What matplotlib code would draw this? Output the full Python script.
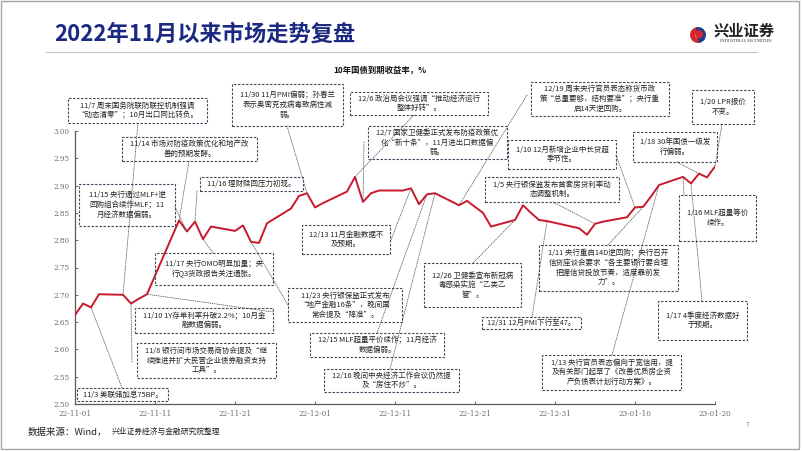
import matplotlib
matplotlib.use("Agg")
import matplotlib.pyplot as plt
import matplotlib.dates as mdates
from matplotlib.patches import Rectangle, Wedge
from matplotlib.lines import Line2D
from datetime import datetime

plt.rcParams["font.family"] = ["Noto Sans CJK SC", "DejaVu Sans"]

# 10年国债到期收益率（交易日）
dates = [
    "2022-11-01", "2022-11-02", "2022-11-03", "2022-11-04", "2022-11-07",
    "2022-11-08", "2022-11-09", "2022-11-10", "2022-11-11", "2022-11-14",
    "2022-11-15", "2022-11-16", "2022-11-17", "2022-11-18", "2022-11-21",
    "2022-11-22", "2022-11-23", "2022-11-24", "2022-11-25", "2022-11-28",
    "2022-11-29", "2022-11-30", "2022-12-01", "2022-12-02", "2022-12-05",
    "2022-12-06", "2022-12-07", "2022-12-08", "2022-12-09", "2022-12-12",
    "2022-12-13", "2022-12-14", "2022-12-15", "2022-12-16", "2022-12-19",
    "2022-12-20", "2022-12-21", "2022-12-22", "2022-12-23", "2022-12-26",
    "2022-12-27", "2022-12-28", "2022-12-29", "2022-12-30", "2023-01-03",
    "2023-01-04", "2023-01-05", "2023-01-06", "2023-01-09", "2023-01-10",
    "2023-01-11", "2023-01-12", "2023-01-13", "2023-01-16", "2023-01-17",
    "2023-01-18", "2023-01-19", "2023-01-20",
]
yields = [
    2.663, 2.684, 2.677, 2.701, 2.700,
    2.684, 2.693, 2.701, 2.735, 2.836,
    2.816, 2.834, 2.802, 2.825, 2.817,
    2.827, 2.797, 2.795, 2.831, 2.858,
    2.881, 2.886, 2.860, 2.868, 2.889,
    2.916, 2.870, 2.886, 2.891, 2.891,
    2.895, 2.866, 2.884, 2.886, 2.864,
    2.872, 2.861, 2.850, 2.825, 2.837,
    2.864, 2.850, 2.837, 2.835, 2.822,
    2.810, 2.830, 2.834, 2.842, 2.860,
    2.861, 2.880, 2.901, 2.916, 2.904,
    2.922, 2.915, 2.935,
]

x_ticks = ["2022-11-01", "2022-11-11", "2022-11-21", "2022-12-01", "2022-12-11",
           "2022-12-21", "2022-12-31", "2023-01-10", "2023-01-20"]
y_ticks = [2.50, 2.55, 2.60, 2.65, 2.70, 2.75, 2.80, 2.85, 2.90, 2.95, 3.00]

# 事件标注：文字 + 指向的交易日
event_texts = [
    "11/7 周末国务院联防联控机制强调\n“动态清零”；10月出口同比转负。",
    "11/14 市场对防疫政策优化和地产改\n善的预期发酵。",
    "11/15 央行通过MLF+逆\n回购组合续作MLF；11\n月经济数据偏弱。",
    "11/16 理财赎回压力初现。",
    "11/30 11月PMI偏弱；孙春兰\n表示奥密克戎病毒致病性减\n弱。",
    "12/6 政治局会议强调“推动经济运行\n整体好转”。",
    "12/7 国家卫健委正式发布防疫政策优\n化“新十条”，11月进出口数据偏\n弱。",
    "12/13 11月金融数据不\n及预期。",
    "11/17 央行OMO明显加量；央\n行Q3货政报告关注通胀。",
    "11/23 央行银保监正式发布\n“地产金融16条”，晚间国\n常会提及“降准”。",
    "11/10 1Y存单利率升破2.2%；10月金\n融数据偏弱。",
    "11/8 银行间市场交易商协会提及“继\n续推进并扩大民营企业债券融资支持\n工具”。",
    "11/3 美联储加息75BP。",
    "12/15 MLF超量平价续作；11月经济\n数据偏弱。",
    "12/16 晚间中央经济工作会议仍然提\n及“房住不炒”。",
    "12/19 周末央行官员表态称货币政\n策“总量要够，结构要准”；央行重\n启14天逆回购。",
    "1/10 12月新增企业中长贷超\n季节性。",
    "1/5 央行银保监发布首套房贷利率动\n态调整机制。",
    "1/18 30年国债一级发\n行偏弱。",
    "1/20 LPR报价\n不变。",
    "1/16 MLF超量等价\n续作。",
    "12/26 卫健委宣布新冠病\n毒感染实施“乙类乙\n管”。",
    "12/31 12月PMI下行至47。",
    "1/11 央行重启14D逆回购；央行召开\n信贷座谈会要求“各主要银行要合理\n把握信贷投放节奏，适度靠前发\n力”。",
    "1/17 4季度经济数据好\n于预期。",
    "1/13 央行官员表态偏向于宽信用，提\n及有关部门起草了《改善优质房企资\n产负债表计划行动方案》。",
]
event_dates = [
    "2022-11-07", "2022-11-14", "2022-11-15", "2022-11-16", "2022-11-30",
    "2022-12-06", "2022-12-07", "2022-12-13", "2022-11-17", "2022-11-23",
    "2022-11-10", "2022-11-08", "2022-11-03", "2022-12-15", "2022-12-16",
    "2022-12-19", "2023-01-10", "2023-01-05", "2023-01-18", "2023-01-20",
    "2023-01-16", "2022-12-26", "2022-12-30", "2023-01-11", "2023-01-17",
    "2023-01-13",
]

# 版面（像素）：标注框 (x0, y0, x1, y1) 与引线起点
box_rects = [
    (68, 98, 207, 123), (122, 137, 257, 161), (79, 184, 175, 226),
    (200, 177, 303, 191), (232, 84, 343, 126), (350, 92, 488, 115),
    (368, 126, 507, 159), (302, 225, 390, 254), (155, 253, 273, 285),
    (288, 288, 402, 322), (135, 308, 273, 333), (137, 343, 276, 378),
    (77, 388, 168, 401), (310, 333, 444, 357), (324, 369, 459, 392),
    (531, 82, 669, 116), (508, 140, 616, 169), (485, 177, 619, 202),
    (633, 132, 717, 162), (692, 90, 754, 124), (679, 195, 756, 241),
    (424, 263, 521, 307), (482, 317, 581, 329), (539, 245, 678, 291),
    (658, 301, 747, 340), (542, 355, 681, 390),
]
leader_starts = [
    (138, 123), (189, 161), (175, 207), (197, 191), (287, 126), (414, 115),
    (364, 142), (391, 240), (213, 253), (288, 305), (273, 312), (132, 362),
    (122, 388), (377, 333), (390, 369), (527, 95), (616, 155), (553, 202),
    (677, 162), (722, 124), (684, 195), (473, 263), (532, 317), (608, 245),
    (702, 301), (612, 355),
]

W, H = 802, 451


def fx(x):
    return x / W


def fy(y):
    return 1 - y / H


def to_num(s):
    return mdates.date2num(datetime.strptime(s, "%Y-%m-%d"))


fig = plt.figure(figsize=(W / 100, H / 100), dpi=100)
fig.patch.set_facecolor("white")

# slide frame, title
fig.add_artist(Rectangle((fx(1), fy(449)), fx(798), 448 / H, transform=fig.transFigure,
                         fill=False, ec="#a6a6a6", lw=1))
fig.text(fx(54), fy(34), "2022年11月以来市场走势复盘", fontsize=16, fontweight="bold",
         color="#1b2a80", ha="left", va="center")
fig.add_artist(Line2D([fx(46), fx(757)], [fy(52), fy(52)], transform=fig.transFigure,
                      color="#c8c8c8", lw=0.9))

# logo
lax = fig.add_axes([fx(688), fy(43), 20 / W, 16 / H])
lax.set_aspect("equal")
lax.set_xlim(-1.1, 1.1)
lax.set_ylim(-1.1, 1.1)
lax.axis("off")
lax.add_patch(Wedge((0, 0), 1, 100, 280, width=0.5, color="#d7262e"))
lax.add_patch(Wedge((0, 0), 1, -80, 100, width=0.5, color="#1f3a8a"))
lax.add_patch(Wedge((0.15, 0.1), 0.45, 0, 360, color="#d7262e"))
fig.text(fx(744), fy(31), "兴业证券", fontsize=11, fontweight="bold", color="#222222",
         ha="center", va="center")
fig.text(fx(746), fy(41), "INDUSTRIAL SECURITIES", fontsize=3.2, color="#333333",
         ha="center", va="center", family="Liberation Serif")

# chart
ax = fig.add_axes([fx(75), fy(404), 640 / W, 273 / H])
x = [to_num(d) for d in dates]
ax.plot(x, yields, color="#c8192e", lw=1.4, zorder=3)
ax.set_xlim(to_num(x_ticks[0]), to_num(x_ticks[-1]))
ax.set_ylim(y_ticks[0], y_ticks[-1])
ax.set_xticks([to_num(d) for d in x_ticks])
ax.set_xticklabels([d[2:] for d in x_ticks])
ax.set_yticks(y_ticks)
ax.set_yticklabels([f"{v:.2f}" for v in y_ticks])
for lbl in ax.get_xticklabels() + ax.get_yticklabels():
    lbl.set_family("DejaVu Serif")
    lbl.set_fontsize(5.2)
    lbl.set_color("#6e6e6e")
ax.tick_params(axis="both", direction="in", length=2, width=0.6, color="#595959", pad=4)
for side in ["top", "right"]:
    ax.spines[side].set_visible(False)
for side in ["left", "bottom"]:
    ax.spines[side].set_color("#595959")
    ax.spines[side].set_linewidth(0.9)

fig.text(fx(380), fy(70), "10年国债到期收益率，%", fontsize=6, fontweight="bold",
         color="#111111", ha="center", va="center")

# leaders
for d, (sx, sy) in zip(event_dates, leader_starts):
    val = yields[dates.index(d)]
    ann = ax.annotate("", xy=(to_num(d), val), xycoords="data",
                      xytext=(fx(sx), fy(sy)), textcoords="figure fraction",
                      arrowprops=dict(arrowstyle="-", color="#5a5a5a", lw=0.6,
                                      linestyle=(0, (1, 1.6)), shrinkA=0, shrinkB=0),
                      annotation_clip=False)
    ann.arrow_patch.set_clip_on(False)

# boxes
for txt, (x0, y0, x1, y1) in zip(event_texts, box_rects):
    fig.add_artist(Rectangle((fx(x0), fy(y1)), (x1 - x0) / W, (y1 - y0) / H,
                             transform=fig.transFigure, fill=False, ec="#3f4a5e",
                             lw=0.8, ls=(0, (2.2, 1.4))))
    fig.text(fx((x0 + x1) / 2), fy((y0 + y1) / 2), txt, fontsize=5.4, color="#262626",
             ha="center", va="center", linespacing=1.25, multialignment="center")

# source
fig.text(fx(28), fy(432), "数据来源：Wind，", fontsize=6.8, color="#222222",
         ha="left", va="center")
fig.text(fx(112), fy(432), "兴业证券经济与金融研究院整理", fontsize=5.6, color="#222222",
         ha="left", va="center")
fig.text(fx(748), fy(425), "7", fontsize=5, color="#8c8c8c", style="italic",
         ha="center", va="center")

fig.savefig("out.png", dpi=100)
